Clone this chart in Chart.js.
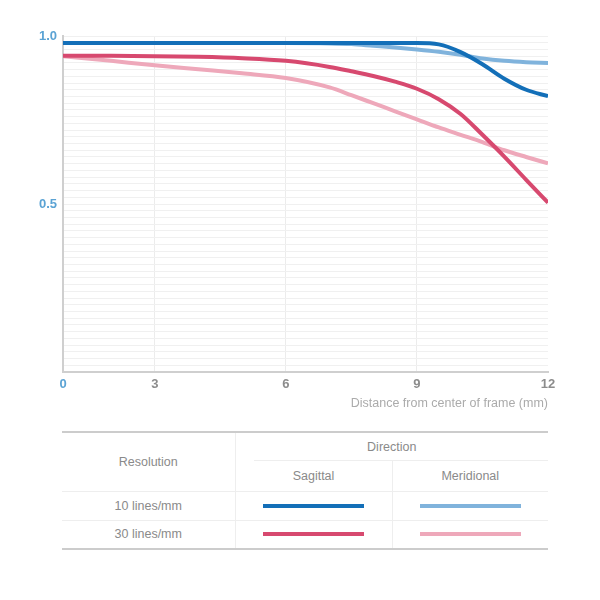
<!DOCTYPE html>
<html lang="en">
<head>
    <meta charset="UTF-8">
    <title>MTF Chart</title>
    <style>
        body { margin: 0; padding: 0; background-color: #fff; font-family: "Liberation Sans Narrow", "Liberation Sans", Arial, sans-serif; }
        .wrap { position: relative; width: 600px; height: 600px; }
        .chart-box { position: absolute; left: 0; top: 0; width: 600px; height: 420px; }

        /* Legend table */
        .legend { position: absolute; left: 62px; top: 431px; width: 486px; border-collapse: collapse; table-layout: fixed; color: #8a8a8a; font-size: 12.5px; }
        .legend td { text-align: center; padding: 0; border: 1px solid #eee; }
        .legend tr:first-child td { border-top: 2px solid #ccc; }
        .legend tr:last-child td { border-bottom: 2px solid #ccc; }
        .legend td:first-child { border-left: none; }
        .legend td:last-child { border-right: none; }
        .legend .dir { border-bottom: none; background: linear-gradient(#eee, #eee) no-repeat right bottom / calc(100% - 18px) 1px; }
        .legend .sub { border-top: none; }
        .swatch { width: 101px; height: 4px; margin: 0 auto; }
    </style>
    <script src="https://cdn.jsdelivr.net/npm/chart.js"></script>
</head>
<body>

<div class="wrap">
    <div class="chart-box"><canvas id="mtfChart"></canvas></div>

    <table class="legend">
        <colgroup><col style="width:173px"><col style="width:157px"><col style="width:156px"></colgroup>
        <tr style="height:29px">
            <td rowspan="2">Resolution</td>
            <td colspan="2" class="dir">Direction</td>
        </tr>
        <tr style="height:30px">
            <td class="sub">Sagittal</td>
            <td class="sub">Meridional</td>
        </tr>
        <tr style="height:29px">
            <td>10 lines/mm</td>
            <td><div class="swatch" id="sw-s10"></div></td>
            <td><div class="swatch" id="sw-m10"></div></td>
        </tr>
        <tr style="height:29px">
            <td>30 lines/mm</td>
            <td><div class="swatch" id="sw-s30"></div></td>
            <td><div class="swatch" id="sw-m30"></div></td>
        </tr>
    </table>
</div>

<script>
    // distance from center of frame (mm), axis starts a bit right of 0
    const xStart = 0.9;
    const distance = [0.9, 2, 3, 4, 5, 6, 7, 7.5, 8, 8.5, 9, 9.5, 10, 10.5, 11, 11.5, 12];
    const xTicks = [0.9, 3, 6, 9, 12];
    const xTickLabels = ['0', '3', '6', '9', '12'];

    // MTF values
    const sagittal10 = [0.979, 0.979, 0.979, 0.979, 0.979, 0.979, 0.979, 0.979, 0.979, 0.979, 0.979, 0.975, 0.952, 0.916, 0.873, 0.840, 0.821];
    const meridional10 = [0.979, 0.979, 0.979, 0.979, 0.979, 0.979, 0.978, 0.976, 0.971, 0.966, 0.960, 0.953, 0.944, 0.933, 0.926, 0.922, 0.920];
    const sagittal30 = [0.941, 0.941, 0.940, 0.938, 0.934, 0.926, 0.908, 0.895, 0.881, 0.864, 0.843, 0.812, 0.768, 0.706, 0.641, 0.572, 0.504];
    const meridional30 = [0.940, 0.926, 0.913, 0.901, 0.889, 0.875, 0.847, 0.824, 0.800, 0.776, 0.752, 0.728, 0.706, 0.684, 0.660, 0.640, 0.621];

    const colors = {
        s10: '#136fb8',
        m10: '#80b3dc',
        s30: '#d7496f',
        m30: '#eea8ba'
    };

    // legend swatches use the same colours
    Object.keys(colors).forEach(k => {
        document.getElementById('sw-' + k).style.backgroundColor = colors[k];
    });

    function series(label, values, color) {
        return {
            label: label,
            data: distance.map((d, i) => ({ x: d, y: values[i] })),
            borderColor: color,
            borderWidth: 4,
            pointRadius: 0,
            cubicInterpolationMode: 'monotone',
            fill: false
        };
    }

    const fontFamily = "'Liberation Sans Narrow', 'Liberation Sans', Arial";

    const ctx = document.getElementById('mtfChart').getContext('2d');
    const mtfChart = new Chart(ctx, {
        type: 'line',
        data: {
            // first dataset is drawn on top
            datasets: [
                series('10 lines/mm Sagittal', sagittal10, colors.s10),
                series('30 lines/mm Sagittal', sagittal30, colors.s30),
                series('10 lines/mm Meridional', meridional10, colors.m10),
                series('30 lines/mm Meridional', meridional30, colors.m30)
            ]
        },
        options: {
            responsive: true,
            maintainAspectRatio: false,
            animation: false,
            layout: { padding: { top: 36, right: 52, left: 0, bottom: 0 } },
            plugins: { legend: { display: false }, tooltip: { enabled: false } },
            scales: {
                x: {
                    type: 'linear',
                    min: xStart,
                    max: 12,
                    afterBuildTicks: scale => { scale.ticks = xTicks.map(v => ({ value: v })); },
                    afterFit: scale => { scale.height = 48; },
                    border: { color: '#cfcfcf', width: 2 },
                    grid: {
                        drawTicks: false,
                        color: c => (c.tick && (c.tick.value === 12 || c.tick.value === xStart)) ? 'rgba(0,0,0,0)' : '#ececec'
                    },
                    ticks: {
                        padding: 5,
                        autoSkip: false,
                        maxRotation: 0,
                        color: c => c.index === 0 ? '#5ba3d4' : '#8c8c8c',
                        font: { family: fontFamily, size: 13, weight: 'bold' },
                        callback: (value, index) => xTickLabels[index]
                    },
                    title: {
                        display: true,
                        align: 'end',
                        text: 'Distance from center of frame (mm)',
                        color: '#ababab',
                        padding: { top: 0, bottom: 9 },
                        font: { family: fontFamily, size: 12.5 }
                    }
                },
                y: {
                    min: 0,
                    max: 1,
                    afterFit: scale => { scale.width = 63; },
                    border: { color: '#cfcfcf', width: 2 },
                    grid: { drawTicks: false, color: '#f0f0f0' },
                    ticks: {
                        stepSize: 0.02,
                        autoSkip: false,
                        padding: 6,
                        color: '#5ba3d4',
                        font: { family: fontFamily, size: 13, weight: 'bold' },
                        callback: value => {
                            const v = Math.round(value * 100);
                            if (v === 100) return '1.0';
                            if (v === 50) return '0.5';
                            return '';
                        }
                    }
                }
            }
        }
    });
</script>

</body>
</html>
